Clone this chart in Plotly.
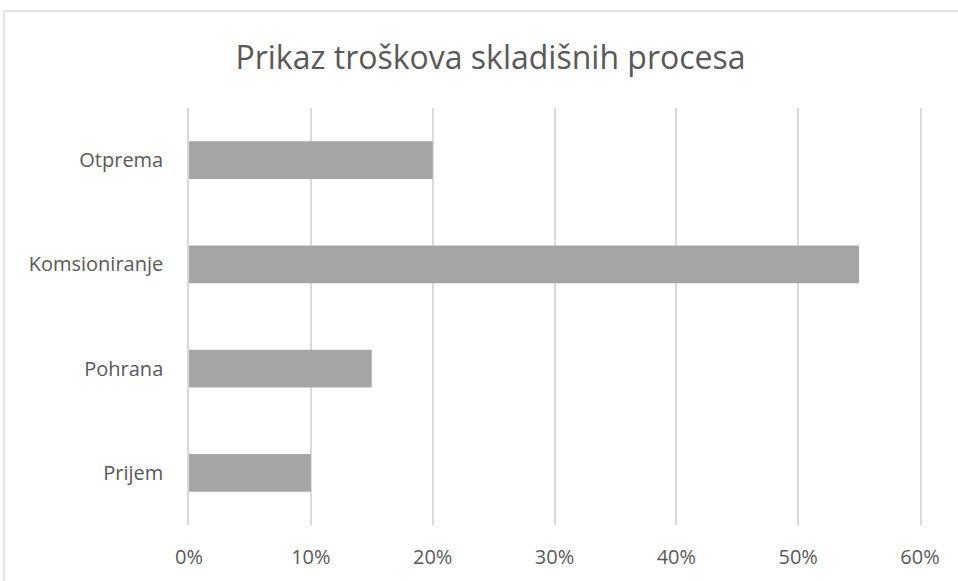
import plotly.graph_objects as go

# Troskovi skladisnih procesa (udio)
procesi = ["Prijem", "Pohrana", "Komsioniranje", "Otprema"]
udjeli = [0.10, 0.15, 0.55, 0.20]
x_tickovi = [0, 0.1, 0.2, 0.3, 0.4, 0.5, 0.6]
x_oznake = ["0%", "10%", "20%", "30%", "40%", "50%", "60%"]

W, H = 958, 581
L, R, T, B = 189, 38, 108, 56
pw, ph = W - L - R, H - T - B

fig = go.Figure()
fig.add_trace(go.Bar(
    y=procesi, x=udjeli, orientation="h",
    marker=dict(color="#A5A5A5", line=dict(width=0)),
    hoverinfo="x+y",
))

fig.update_layout(
    width=W, height=H,
    margin=dict(l=L, r=R, t=T, b=B),
    paper_bgcolor="white", plot_bgcolor="white",
    font=dict(family="Open Sans", color="#595959", size=20),
    title=dict(text="Prikaz troškova skladišnih procesa", x=0.512, xanchor="center",
               y=1 - 58 / H, yanchor="middle",
               font=dict(size=32, color="#595959")),
    bargap=0.64,
    showlegend=False,
    # okvir grafikona (desni i donji rub su izvan slike)
    shapes=[dict(type="rect", xref="paper", yref="paper",
                 x0=(4 - L) / pw, x1=(W + 10 - L) / pw,
                 y0=-(B + 10) / ph, y1=(H - B - 11) / ph,
                 line=dict(color="#D9D9D9", width=1.5), layer="below")],
)
fig.update_xaxes(
    range=[0, 0.6], tickvals=x_tickovi, ticktext=x_oznake,
    showgrid=True, gridcolor="#D9D9D9", gridwidth=1.5,
    zeroline=False, showline=False, ticks="", ticklabelstandoff=18,
    tickfont=dict(size=20),
)
fig.update_yaxes(
    showgrid=False, zeroline=False, ticks="",
    showline=True, mirror=True, linecolor="#D9D9D9", linewidth=1.5,
    ticklabelstandoff=20, tickfont=dict(size=20),
)

fig.write_html("out.html", config={"displayModeBar": False},
               post_script="document.body.style.margin='0';")
